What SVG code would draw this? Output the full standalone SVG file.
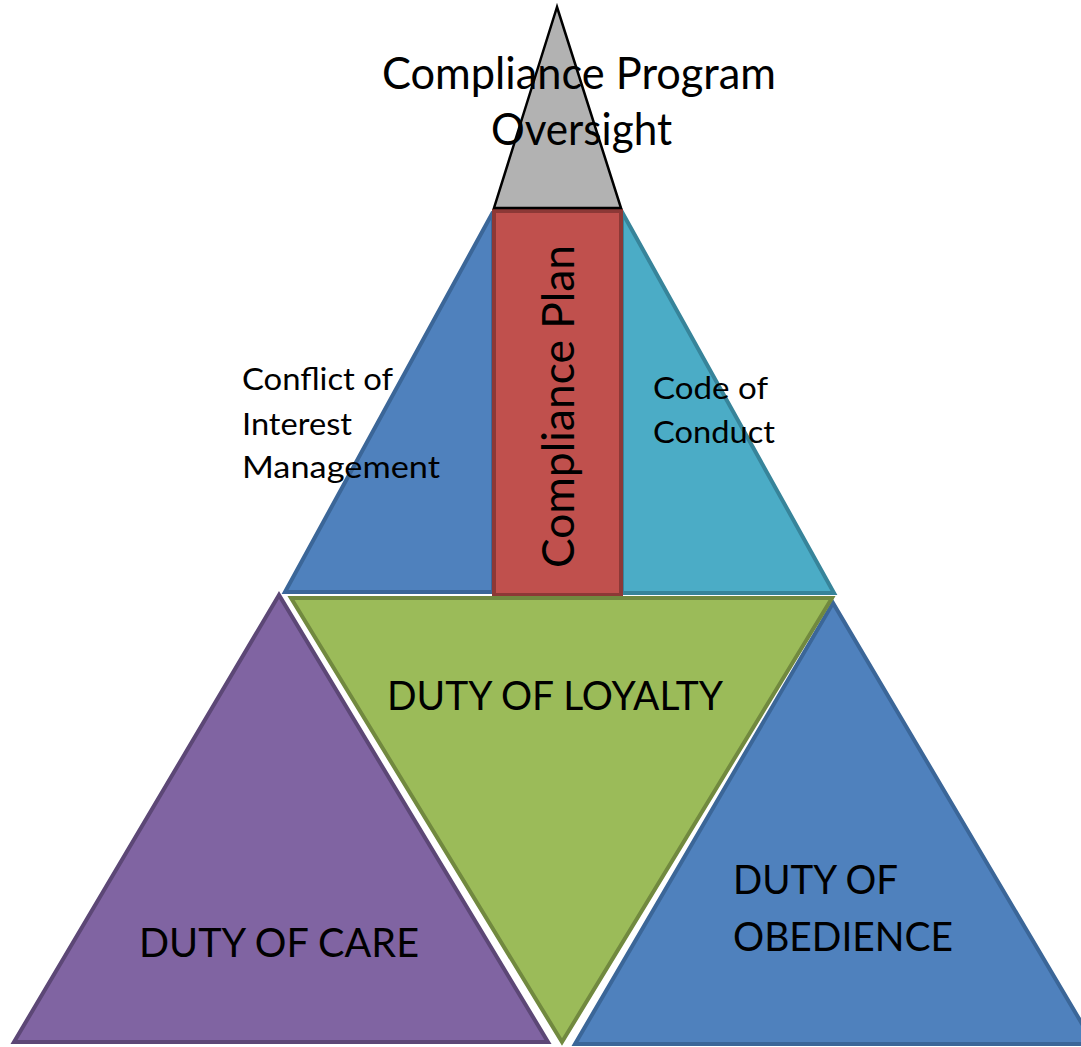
<svg xmlns="http://www.w3.org/2000/svg" width="1081" height="1047" viewBox="0 0 1081 1047">
  <style>
    .lbl { font-family: Lato, "Open Sans", "Liberation Sans", sans-serif; fill: #000; }
    .shape { stroke-width: 4; stroke-linejoin: miter; }
  </style>
  <rect width="1081" height="1047" fill="#ffffff"/>

  <!-- upper pyramid: left and right faces -->
  <g id="conflict-of-interest">
    <polygon class="shape" points="285,592 493,212 493,592" fill="#4f81bd" stroke="#3b6698"/>
    <text class="lbl" font-size="31" x="242" y="390" textLength="151" lengthAdjust="spacingAndGlyphs">Conflict of</text>
    <text class="lbl" font-size="31" x="242" y="435" textLength="110" lengthAdjust="spacingAndGlyphs">Interest</text>
    <text class="lbl" font-size="31" x="242" y="478" textLength="198" lengthAdjust="spacingAndGlyphs">Management</text>
  </g>

  <g id="code-of-conduct">
    <polygon class="shape" points="622,212 834,593 622,593" fill="#4bacc6" stroke="#37849a"/>
    <text class="lbl" font-size="31" x="653" y="399" textLength="115" lengthAdjust="spacingAndGlyphs">Code of</text>
    <text class="lbl" font-size="31" x="653" y="443" textLength="122" lengthAdjust="spacingAndGlyphs">Conduct</text>
  </g>

  <!-- central column -->
  <g id="compliance-plan">
    <rect class="shape" x="494" y="211" width="127" height="384" fill="#c0504d" stroke="#8c3836"/>
    <text class="lbl" font-size="45" transform="translate(574,568) rotate(-90)" x="0" y="0" textLength="323" lengthAdjust="spacingAndGlyphs">Compliance Plan</text>
  </g>

  <!-- apex -->
  <g id="program-oversight">
    <polygon points="557,7 494,208 621,208" fill="#b2b2b2" stroke="#000" stroke-width="2.5" stroke-linejoin="miter"/>
    <text class="lbl" font-size="45" x="382" y="89" textLength="394" lengthAdjust="spacingAndGlyphs">Compliance Program</text>
    <text class="lbl" font-size="45" x="491" y="145" textLength="181" lengthAdjust="spacingAndGlyphs">Oversight</text>
  </g>

  <!-- lower tier -->
  <g id="duty-of-care">
    <polygon class="shape" points="279,595 14,1042 548,1042" fill="#8064a2" stroke="#5c4776"/>
    <text class="lbl" font-size="40" x="139" y="957" textLength="280" lengthAdjust="spacingAndGlyphs">DUTY OF CARE</text>
  </g>

  <g id="duty-of-obedience">
    <polygon class="shape" points="833,603 575,1044 1094,1044" fill="#4f81bd" stroke="#3b6698"/>
    <text class="lbl" font-size="40" x="733" y="894" textLength="165" lengthAdjust="spacingAndGlyphs">DUTY OF</text>
    <text class="lbl" font-size="40" x="733" y="951" textLength="220" lengthAdjust="spacingAndGlyphs">OBEDIENCE</text>
  </g>

  <g id="duty-of-loyalty">
    <polygon class="shape" points="291,598 832,598 562,1042" fill="#9bbb59" stroke="#71893f"/>
    <text class="lbl" font-size="40" x="387" y="710" textLength="336" lengthAdjust="spacingAndGlyphs">DUTY OF LOYALTY</text>
  </g>

  <g id="connectors"/>
</svg>
